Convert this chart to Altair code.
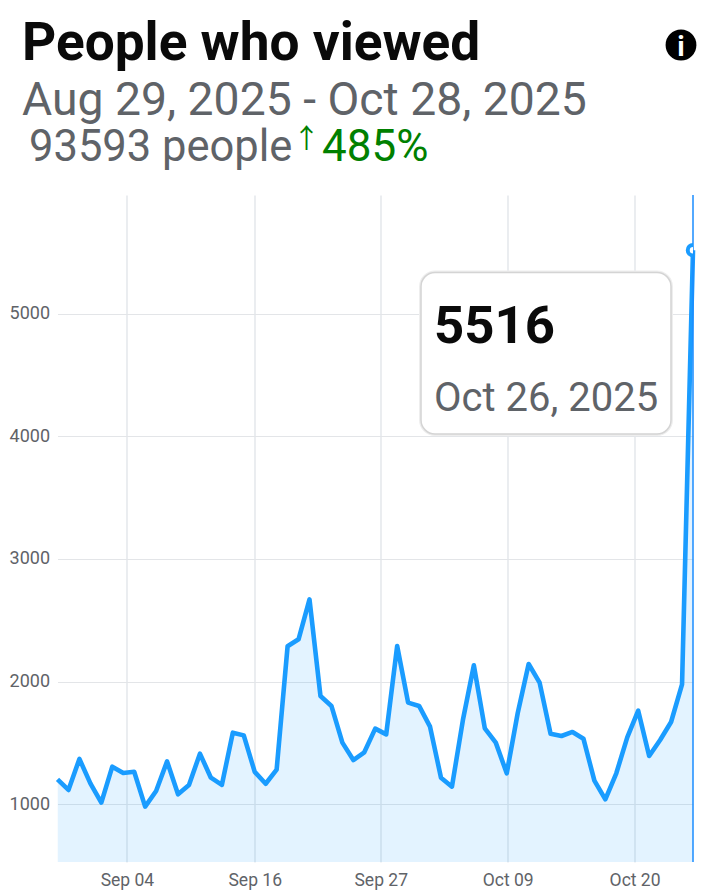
import altair as alt
import pandas as pd

START = "2025-08-29"
VALUES = [1204, 1117, 1370, 1171, 1014, 1307, 1255, 1266, 981, 1109, 1350, 1082, 1158, 1413, 1217,
          1158, 1584, 1562, 1264, 1168, 1283, 2288, 2345, 2670, 1883, 1802, 1503, 1361, 1424, 1617,
          1570, 2290, 1829, 1802, 1633, 1217, 1144, 1687, 2133, 1619, 1503, 1253, 1742, 2144, 1992,
          1576, 1557, 1590, 1535, 1193, 1041, 1253, 1546, 1763, 1394, 1524, 1671, 1978, 5516]
Y_TICKS = [1000, 2000, 3000, 4000, 5000]
X_TICKS = [(9, 4, 8), (9, 16, 0), (9, 27, 12), (10, 9, 2), (10, 20, 16)]
HIGHLIGHT_DATE = "2025-10-26"
HIGHLIGHT_VALUE = 5516

BLUE = "#1a9cff"
GREY = "#5f6368"
GREEN = "#008000"
FONT = "Roboto"
LEFT, TOP, W, H = 57.5, 195, 635.5, 667

df = pd.DataFrame({"date": pd.date_range(START, periods=len(VALUES), freq="D").strftime("%Y-%m-%dT00:00:00"),
                   "value": VALUES})
hl = pd.DataFrame({"date": [HIGHLIGHT_DATE + "T00:00:00"], "value": [HIGHLIGHT_VALUE]})

x_scale = alt.Scale(domain=[alt.DateTime(year=2025, month=8, date=29), alt.DateTime(year=2025, month=10, date=26)], nice=False)
y_scale = alt.Scale(domain=[530, 5966], nice=False, zero=False)
x = alt.X("date:T", title=None, scale=x_scale, axis=alt.Axis(
    values=[alt.DateTime(year=2025, month=m, date=d, hours=h) for m, d, h in X_TICKS],
    format="%b %d", labelFont=FONT, labelFontSize=17.5, labelColor=GREY, labelPadding=9,
    grid=True, gridColor="#dde1e6", gridWidth=1.2, domain=False, ticks=False, labelOverlap=False))
y = alt.Y("value:Q", title=None, scale=y_scale, axis=alt.Axis(
    values=Y_TICKS, format="d", labelFont=FONT, labelFontSize=18, labelColor=GREY, labelPadding=8,
    grid=True, gridColor="#e3e5e8", gridWidth=1.2, domain=False, ticks=False))

area = alt.Chart(df).mark_area(color=BLUE, opacity=0.12, clip=True).encode(x=x, y=y)
line = alt.Chart(df).mark_line(color=BLUE, strokeWidth=4.6, strokeJoin="round").encode(x=x, y=y)
rule = alt.Chart(hl).mark_rule(color="#1a8cff", strokeWidth=1.5).encode(x="date:T", y=alt.value(0), y2=alt.value(H))
dot = alt.Chart(hl).mark_point(filled=False, fill="white", stroke=BLUE, strokeWidth=4, size=110, opacity=1, clip=True).encode(x="date:T", y="value:Q")


def text(s, px, py, size, color, weight="normal", align="left", font=FONT):
    return alt.Chart(pd.DataFrame({"t": [s]})).mark_text(
        font=font, fontSize=size, fontWeight=weight, color=color, align=align, baseline="alphabetic"
    ).encode(text="t:N", x=alt.value(px - LEFT), y=alt.value(py - TOP))


def tip_rect(stroke, width):
    return alt.Chart(pd.DataFrame({"t": [0]})).mark_rect(
        fill="white", stroke=stroke, strokeWidth=width, cornerRadius=14
    ).encode(x=alt.value(421 - LEFT), x2=alt.value(671 - LEFT), y=alt.value(272.5 - TOP), y2=alt.value(434 - TOP))


info = alt.Chart(pd.DataFrame({"t": [0]})).mark_point(
    filled=True, color="black", size=950, opacity=1
).encode(x=alt.value(681 - LEFT), y=alt.value(45 - TOP))

annotations = [
    text("People who viewed", 22, 60, 53.2, "#0a0a0a", "bold"),
    text("Aug 29, 2025 - Oct 28, 2025", 22, 115, 46.3, GREY),
    text("93593 people", 29, 161, 43.5, GREY),
    text("↑", 293, 148, 27, GREEN, font="Noto Sans CJK SC"),
    text("485%", 322, 161, 44, GREEN),
    text("5516", 434, 343, 52.7, "#0a0a0a", "bold"),
    text("Oct 26, 2025", 434, 411, 40, GREY),
    text("i", 681, 56, 28, "white", "bold", "center"),
]

chart = alt.layer(area, line, rule, dot, tip_rect("#eeeeee", 4), tip_rect("#d4d4d4", 1.5), info, *annotations).properties(
    width=W, height=H,
    padding={"left": LEFT - 8, "top": TOP - 8, "right": 15, "bottom": 32},
    autosize=alt.AutoSizeParams(type="none"),
).configure_view(stroke=None)

chart.save("out.html", embed_options={"renderer": "svg", "actions": False})
